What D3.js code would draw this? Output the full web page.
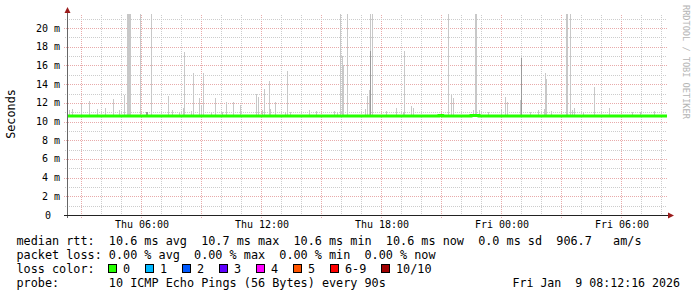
<!DOCTYPE html>
<html>
<head>
<meta charset="utf-8">
<script src="https://cdn.jsdelivr.net/npm/d3@7"></script>
<style>
body { margin: 0; background: #fff; }
text { font-family: "DejaVu Sans Mono", monospace; white-space: pre; }
</style>
</head>
<body>
<svg width="697" height="297"></svg>
<script>
// time window of the graph (30 hours)
var startTime = "01-08 02:18", endTime = "01-09 08:18";

var yTicks = [0, 2, 4, 6, 8, 10, 12, 14, 16, 18, 20];

// median rtt (ms)
var medianTimes = ["01-08 02:18", "01-08 20:54", "01-08 21:05", "01-08 22:30", "01-08 22:54", "01-09 08:18"];
var medianValues = [10.6, 10.65, 10.6, 10.65, 10.6, 10.6];

// smoke: highest ping per step (ms)
var smokeTimes = [
    "01-08 02:25", "01-08 02:34", "01-08 03:00", "01-08 03:25", "01-08 03:47", "01-08 04:13",
    "01-08 04:37", "01-08 04:55", "01-08 05:10", "01-08 05:18", "01-08 05:21", "01-08 05:24",
    "01-08 05:27", "01-08 05:58", "01-08 06:15", "01-08 06:18", "01-08 06:31", "01-08 07:20",
    "01-08 07:33", "01-08 07:54", "01-08 08:05", "01-08 08:10", "01-08 08:30", "01-08 08:37",
    "01-08 08:54", "01-08 08:59", "01-08 09:07", "01-08 09:30", "01-08 09:43", "01-08 10:03",
    "01-08 10:16", "01-08 10:35", "01-08 10:58", "01-08 11:45", "01-08 11:50", "01-08 12:03",
    "01-08 12:10", "01-08 12:23", "01-08 12:27", "01-08 12:43", "01-08 13:12", "01-08 13:19",
    "01-08 13:27", "01-08 14:23", "01-08 14:45", "01-08 15:40", "01-08 15:48", "01-08 15:58",
    "01-08 16:03", "01-08 16:06", "01-08 16:18", "01-08 17:12", "01-08 17:19", "01-08 17:23",
    "01-08 17:25", "01-08 17:28", "01-08 17:33", "01-08 18:15", "01-08 18:45", "01-08 19:06",
    "01-08 19:10", "01-08 19:31", "01-08 19:37", "01-08 21:20", "01-08 21:31", "01-08 21:35",
    "01-08 22:35", "01-08 22:43", "01-08 22:46", "01-08 22:53", "01-08 23:21", "01-09 00:00",
    "01-09 00:13", "01-09 00:18", "01-09 00:58", "01-09 01:00", "01-09 01:27", "01-09 01:50",
    "01-09 02:10", "01-09 02:13", "01-09 02:16", "01-09 02:30", "01-09 03:15", "01-09 03:18",
    "01-09 03:28", "01-09 03:33", "01-09 03:39", "01-09 04:06", "01-09 04:38", "01-09 05:23",
    "01-09 06:33", "01-09 06:57", "01-09 07:40"
];
var smokeMax = [
    11.2, 11.3, 11.9, 12.2, 11.3, 11.4,
    12.4, 11.2, 12.8, 21.5, 21.5, 21.5,
    21.5, 21.5, 11.0, 11.0, 21.5, 12.7,
    11.2, 11.0, 11.5, 17.4, 11.1, 15.2,
    12.5, 11.8, 15.2, 11.0, 12.5, 11.0,
    12.1, 12.1, 11.8, 13.0, 12.6, 11.2,
    13.5, 14.3, 11.3, 12.1, 11.0, 15.4,
    11.0, 11.2, 11.1, 11.1, 11.0, 21.5,
    17.0, 16.0, 21.5, 11.3, 12.7, 12.1,
    13.4, 21.5, 21.5, 11.1, 11.4, 11.0,
    17.6, 11.7, 11.4, 21.5, 12.8, 12.5,
    11.2, 21.5, 21.5, 11.2, 11.0, 11.3,
    12.6, 12.1, 12.3, 16.8, 11.0, 11.2,
    11.3, 15.2, 14.5, 11.1, 21.5, 21.5,
    21.5, 11.2, 11.4, 11.0, 13.7, 11.4,
    11.0, 11.0, 11.1
];

// denser inner smoke
var darkTimes = ["01-08 06:15", "01-08 06:18", "01-08 17:28", "01-09 01:00"];
var darkMax = [11.0, 11.0, 17.6, 16.8];

var lossLabels = ["0", "1", "2", "3", "4", "5", "6-9", "10/10"];
var lossColors = ["#26ff00", "#00b8ff", "#0059ff", "#5e00ff", "#ff00ff", "#ff5500", "#ff0000", "#a00000"];

var statLines = [
    "median rtt:  10.6 ms avg  10.7 ms max  10.6 ms min  10.6 ms now  0.0 ms sd  906.7   am/s",
    "packet loss: 0.00 % avg  0.00 % max  0.00 % min  0.00 % now",
    "loss color:",
    "probe:       10 ICMP Echo Pings (56 Bytes) every 90s"
];
var stamp = "Fri Jan  9 08:12:16 2026";

var parse = function (s) { return d3.timeParse("%Y-%m-%d %H:%M")("2026-" + s); };

var svg = d3.select("svg");
var plotLeft = 67, plotRight = 667, plotTop = 15, plotBottom = 215;

var x = d3.scaleTime()
    .domain([parse(startTime), parse(endTime)])
    .range([plotLeft, plotRight]);

var y = d3.scaleLinear()
    .domain([0, 21.4])
    .range([plotBottom, plotTop]);

//grid lines
var grid = svg.append("g").attr("shape-rendering", "crispEdges");
var hours = d3.timeHour.every(1).range(x.domain()[0], x.domain()[1]);
hours.forEach(function (h) {
    var major = h.getHours() % 3 == 0;
    var px = Math.round(x(h)) + 0.5;
    grid.append("line")
        .attr("x1", px).attr("x2", px)
        .attr("y1", plotTop).attr("y2", plotBottom + (major ? 3 : 2))
        .attr("stroke", major ? "#e8aaaa" : "#cccccc")
        .attr("stroke-dasharray", "1,1");
});
d3.range(1, 22).forEach(function (v) {
    var major = v % 2 == 0;
    var py = Math.round(y(v)) + 0.5;
    grid.append("line")
        .attr("x1", plotLeft - (major ? 3 : 2)).attr("x2", plotRight)
        .attr("y1", py).attr("y2", py)
        .attr("stroke", major ? "#e8aaaa" : "#cccccc")
        .attr("stroke-dasharray", "1,1");
});

//smoke
var step = 3 * 60 * 1000;
var smoke = svg.append("g").attr("shape-rendering", "crispEdges");
smokeTimes.forEach(function (t, i) {
    var t0 = parse(t);
    var x0 = Math.round(x(t0));
    var w = Math.max(1, Math.round(x(new Date(+t0 + step))) - x0);
    smoke.append("rect")
        .attr("x", x0).attr("width", w)
        .attr("y", y(smokeMax[i]))
        .attr("height", y(10.6) - y(smokeMax[i]))
        .attr("fill", "#c8c8c8");
});
darkTimes.forEach(function (t, i) {
    var x0 = Math.round(x(parse(t)));
    smoke.append("rect")
        .attr("x", x0).attr("width", 1)
        .attr("y", y(darkMax[i]))
        .attr("height", y(10.6) - y(darkMax[i]))
        .attr("fill", "#9a9a9a");
});

//median line
var medianData = medianTimes.map(function (t, i) { return { time: parse(t), value: medianValues[i] }; });
var line = d3.line()
    .x(function (d) { return x(d.time); })
    .y(function (d) { return y(d.value); })
    .curve(d3.curveStepAfter);
svg.append("path")
    .datum(medianData)
    .attr("d", line)
    .attr("fill", "none")
    .attr("stroke", lossColors[0])
    .attr("stroke-width", 3);

//axes
svg.append("line")
    .attr("x1", plotLeft + 0.5).attr("x2", plotLeft + 0.5)
    .attr("y1", plotBottom + 3).attr("y2", 10)
    .attr("stroke", "#666");
svg.append("line")
    .attr("x1", plotLeft - 3).attr("x2", 669)
    .attr("y1", plotBottom + 0.5).attr("y2", plotBottom + 0.5)
    .attr("stroke", "#222");
svg.append("path")
    .attr("d", "M" + (plotLeft + 0.5) + ",7 L" + (plotLeft - 2.5) + ",13 L" + (plotLeft + 3.5) + ",13 Z")
    .attr("fill", "#9b1c1c");
svg.append("path")
    .attr("d", "M674," + (plotBottom + 0.5) + " L668," + (plotBottom - 2.5) + " L668," + (plotBottom + 3.5) + " Z")
    .attr("fill", "#9b1c1c");

//tick labels
svg.selectAll(".ylab")
    .data(yTicks)
    .enter().append("text")
    .attr("class", "ylab")
    .attr("x", function (d) { return d == 0 ? 51 : 60; })
    .attr("y", function (d) { return y(d) + 3.5; })
    .attr("text-anchor", "end")
    .attr("font-size", "10px")
    .text(function (d) { return d == 0 ? "0" : d + " m"; });

var labelTimes = d3.timeHour.every(6).range(x.domain()[0], x.domain()[1]);
svg.selectAll(".xlab")
    .data(labelTimes)
    .enter().append("text")
    .attr("class", "xlab")
    .attr("x", function (d) { return x(d) + 1; })
    .attr("y", 228)
    .attr("text-anchor", "middle")
    .attr("font-size", "10px")
    .text(d3.timeFormat("%a %H:%M"));

svg.append("text")
    .attr("transform", "translate(15,114)rotate(-90)")
    .attr("text-anchor", "middle")
    .attr("font-size", "11.8px")
    .text("Seconds");

svg.append("text")
    .attr("transform", "translate(683,5)rotate(90)")
    .attr("font-size", "8.6px")
    .attr("fill", "#b4b4b4")
    .text("RRDTOOL / TOBI OETIKER");

//legend text
statLines.forEach(function (s, i) {
    svg.append("text")
        .attr("x", 16.5)
        .attr("y", 245 + i * 14)
        .attr("font-size", "11.8px")
        .text(s);
});
svg.append("text")
    .attr("x", 680)
    .attr("y", 287)
    .attr("text-anchor", "end")
    .attr("font-size", "11.6px")
    .text(stamp);

var cx = 108;
lossLabels.forEach(function (l, i) {
    svg.append("rect")
        .attr("x", cx + 0.5).attr("y", 264.5)
        .attr("width", 8).attr("height", 8)
        .attr("fill", lossColors[i])
        .attr("stroke", "#000");
    svg.append("text")
        .attr("x", cx + 15)
        .attr("y", 273)
        .attr("font-size", "11.8px")
        .text(l);
    cx = cx + 15 + l.length * 7 + 15;
});
</script>
</body>
</html>
